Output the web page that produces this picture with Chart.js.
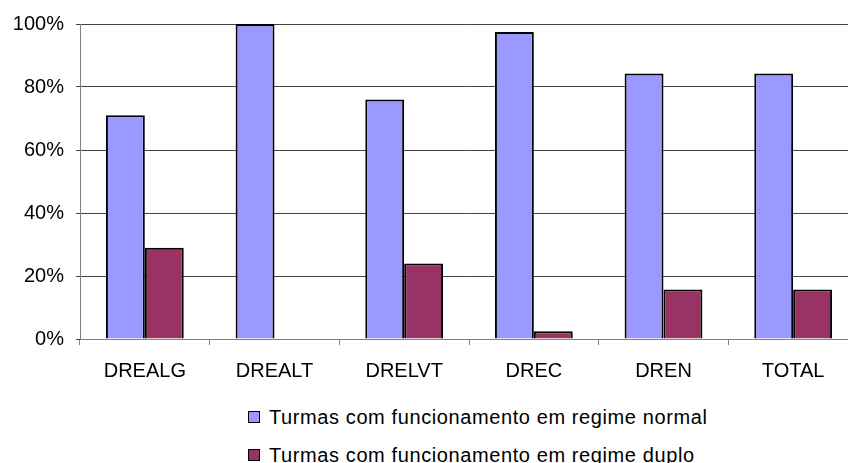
<!DOCTYPE html>
<html lang="pt">
<head>
    <meta charset="UTF-8">
    <title>Turmas por regime</title>
    <script src="https://cdn.jsdelivr.net/npm/chart.js"></script>
    <style>
        body {
            margin: 0;
            padding: 0;
            background: #ffffff;
            overflow: hidden;
            font-family: 'Liberation Sans', Arial, sans-serif;
        }

        .wrap {
            position: relative;
            width: 860px;
            height: 463px;
        }

        .legend {
            position: absolute;
            left: 248px;
            top: 398px;
            font-size: 20px;
            letter-spacing: 0.6px;
            color: #000;
        }

        .legend div {
            display: flex;
            align-items: center;
            height: 38px;
        }

        .legend span.box {
            display: inline-block;
            width: 10px;
            height: 10px;
            border: 1.5px solid #000;
            margin-right: 9px;
        }
    </style>
</head>
<body>
    <div class="wrap">
        <canvas id="barChart" width="858" height="390"></canvas>
        <div class="legend" id="legend"></div>
    </div>

    <script>
        const categories = ["DREALG", "DREALT", "DRELVT", "DREC", "DREN", "TOTAL"];
        const seriesNames = [
            "Turmas com funcionamento em regime normal",
            "Turmas com funcionamento em regime duplo"
        ];
        const normalValues = [71, 100, 76, 97.5, 84.3, 84.3];
        const duploValues = [29, 0, 24, 2.5, 15.7, 15.7];
        const yTicks = [0, 20, 40, 60, 80, 100];

        const colors = ['#9999ff', '#993366'];

        // legend (two stacked rows, left aligned like the original)
        const legend = document.getElementById("legend");
        seriesNames.forEach((name, i) => {
            const row = document.createElement("div");
            row.innerHTML = '<span class="box" style="background:' + colors[i] + '"></span>' + name;
            legend.appendChild(row);
        });

        new Chart(document.getElementById("barChart"), {
            type: 'bar',
            data: {
                labels: categories,
                datasets: [{
                    label: seriesNames[0],
                    data: normalValues,
                    backgroundColor: colors[0],
                    borderColor: '#000',
                    borderWidth: 2,
                    borderSkipped: 'bottom'
                }, {
                    label: seriesNames[1],
                    data: duploValues,
                    backgroundColor: colors[1],
                    borderColor: '#000',
                    borderWidth: 2,
                    borderSkipped: 'bottom'
                }]
            },
            options: {
                responsive: false,
                animation: false,
                layout: { padding: { top: 23, left: 0, right: 0, bottom: 0 } },
                datasets: { bar: { categoryPercentage: 0.6, barPercentage: 1.0 } },
                plugins: {
                    legend: { display: false },
                    tooltip: { enabled: false }
                },
                scales: {
                    x: {
                        offset: true,
                        grid: {
                            offset: true,
                            drawOnChartArea: false,
                            tickLength: 6,
                            color: '#808080'
                        },
                        border: { color: '#808080' },
                        ticks: {
                            color: '#000',
                            padding: 14,
                            font: { family: "'Liberation Sans', Arial", size: 20 }
                        },
                        afterFit: s => { s.height = 51; }
                    },
                    y: {
                        min: 0,
                        max: 100,
                        afterBuildTicks: s => { s.ticks = yTicks.map(v => ({ value: v })); },
                        grid: {
                            color: '#444',
                            lineWidth: 1,
                            tickLength: 4
                        },
                        border: { color: '#808080' },
                        ticks: {
                            color: '#000',
                            padding: 12,
                            callback: v => v + '%',
                            font: { family: "'Liberation Sans', Arial", size: 20 }
                        },
                        afterFit: s => { s.width = 80; }
                    }
                }
            }
        });
    </script>
</body>
</html>
